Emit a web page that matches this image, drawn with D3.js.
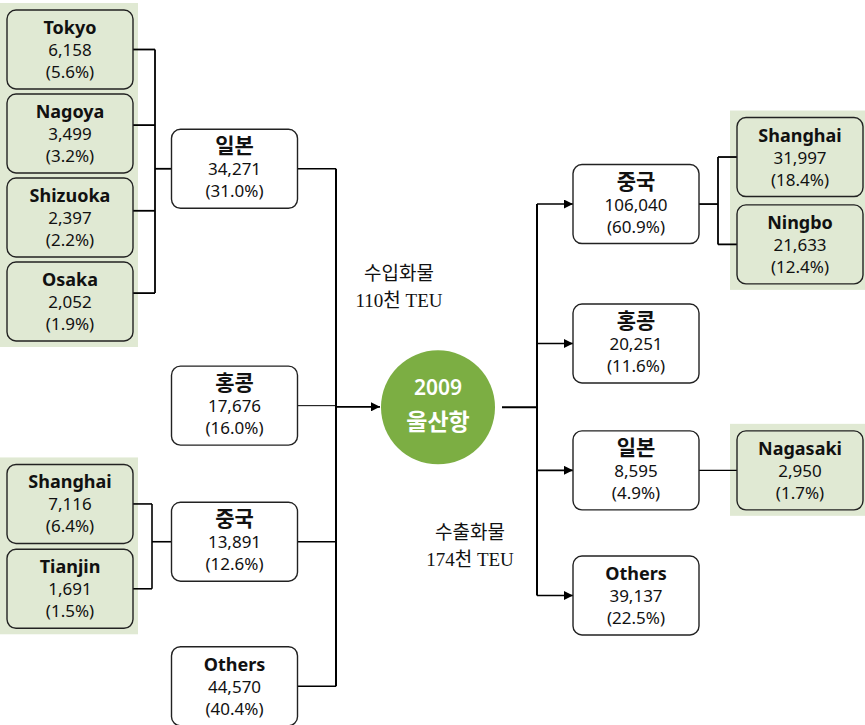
<!DOCTYPE html>
<html>
<head>
<meta charset="utf-8">
<script src="https://cdn.jsdelivr.net/npm/d3@7"></script>
<style>
  body { margin: 0; background: #fff; }
  svg { display: block; }
</style>
</head>
<body>
<svg id="chart" width="865" height="725"></svg>
<script>
// 수입 (import) - 국가별
const importCountries = ['일본', '홍콩', '중국', 'Others']
const importValues = [34271, 17676, 13891, 44570]
const importShares = [31.0, 16.0, 12.6, 40.4]

// 수입 - 일본 항만
const importJapanPorts = ['Tokyo', 'Nagoya', 'Shizuoka', 'Osaka']
const importJapanValues = [6158, 3499, 2397, 2052]
const importJapanShares = [5.6, 3.2, 2.2, 1.9]

// 수입 - 중국 항만
const importChinaPorts = ['Shanghai', 'Tianjin']
const importChinaValues = [7116, 1691]
const importChinaShares = [6.4, 1.5]

// 수출 (export) - 국가별
const exportCountries = ['중국', '홍콩', '일본', 'Others']
const exportValues = [106040, 20251, 8595, 39137]
const exportShares = [60.9, 11.6, 4.9, 22.5]

// 수출 - 중국 / 일본 항만
const exportChinaPorts = ['Shanghai', 'Ningbo']
const exportChinaValues = [31997, 21633]
const exportChinaShares = [18.4, 12.4]
const exportJapanPorts = ['Nagasaki']
const exportJapanValues = [2950]
const exportJapanShares = [1.7]

// 합계
const hubYear = '2009'
const hubName = '울산항'
const importTotal = 110
const exportTotal = 174

// 레이아웃 (행 위치)
const rowScale = d3.scaleLinear().domain([0, 1]).range([49.5, 133.5])
const importJapanRows = [0, 1, 2, 3]
const importJapanLinkRows = [0, 0.9, 1.92, 2.9]
const importChinaRows = [5.41, 6.42]
const importRows = [1.42, 4.24, 5.86, 7.58]
const exportRows = [1.84, 3.5, 5.01, 6.5]
const exportChinaRows = [1.28, 2.32]
const exportJapanRows = [5.01]
const hubRow = 4.26

const colX = { leftPort: 7, leftMid: 172, trunkL: 336, hub: 438, trunkR: 537, rightMid: 573, rightPort: 737 }
const boxW = 126, boxH = 79
const green = '#e0e9d3'
const hubGreen = '#7cae43'
const sansFont = '"Noto Sans", "Noto Sans CJK KR", sans-serif'
const krFont = '"Noto Sans CJK KR", sans-serif'
const serifFont = '"Liberation Serif", "DejaVu Serif", "Noto Sans CJK KR", serif'

const fmtValue = d3.format(',')
const fmtShare = d => '(' + d3.format('.1f')(d) + '%)'

const svg = d3.select('#chart')

svg.append('defs').append('marker')
    .attr('id', 'arrow')
    .attr('viewBox', '0 0 10 10')
    .attr('refX', 10)
    .attr('refY', 5)
    .attr('markerWidth', 10)
    .attr('markerHeight', 9)
    .attr('markerUnits', 'userSpaceOnUse')
    .attr('orient', 'auto')
    .append('path')
    .attr('d', 'M0,0 L10,5 L0,10 Z')
    .attr('fill', '#000')

const panelLayer = svg.append('g')
const lineLayer = svg.append('g').attr('fill', 'none').attr('stroke', '#000')
const boxLayer = svg.append('g')

// 녹색 배경 패널
function drawPanel(x, rows) {
    let top = rowScale(d3.min(rows)) - boxH / 2 - 7
    let bottom = rowScale(d3.max(rows)) + boxH / 2 + 6
    panelLayer.append('rect')
        .attr('x', x - 7)
        .attr('y', top)
        .attr('width', boxW + 12)
        .attr('height', bottom - top)
        .attr('fill', green)
}

// 박스 + 텍스트
function drawBoxes(x, rows, names, values, shares, fill) {
    let g = boxLayer.selectAll(null)
        .data(names.map((n, i) => ({ name: n, value: values[i], share: shares[i], cy: rowScale(rows[i]) })))
        .enter()
        .append('g')
        .attr('transform', d => 'translate(' + x + ',' + (d.cy - boxH / 2) + ')')

    g.append('rect')
        .attr('width', boxW)
        .attr('height', boxH)
        .attr('rx', 9)
        .attr('fill', fill)
        .attr('stroke', '#222')
        .attr('stroke-width', 1.4)

    g.append('text')
        .attr('x', boxW / 2)
        .attr('y', 24)
        .attr('text-anchor', 'middle')
        .attr('font-family', d => /[가-힣]/.test(d.name) ? krFont : sansFont)
        .attr('font-size', d => /[가-힣]/.test(d.name) ? 21 : 18)
        .attr('font-weight', 'bold')
        .attr('fill', '#111')
        .text(d => d.name)

    g.append('text')
        .attr('x', boxW / 2)
        .attr('y', 46)
        .attr('text-anchor', 'middle')
        .attr('font-family', sansFont)
        .attr('font-size', 17)
        .attr('fill', '#111')
        .text(d => fmtValue(d.value))

    g.append('text')
        .attr('x', boxW / 2)
        .attr('y', 68)
        .attr('text-anchor', 'middle')
        .attr('font-family', sansFont)
        .attr('font-size', 17)
        .attr('fill', '#111')
        .text(d => fmtShare(d.share))
}

// 가지 연결선 (자식 -> 부모)
function drawBracket(xFrom, xMid, xTo, childRows, parentRow, width) {
    let ys = childRows.map(r => rowScale(r))
    let py = rowScale(parentRow)
    ys.forEach(y => {
        lineLayer.append('path')
            .attr('d', d3.line()([[xFrom, y], [xMid, y]]))
            .attr('stroke-width', width)
    })
    lineLayer.append('path')
        .attr('d', d3.line()([[xMid, d3.min(ys.concat([py]))], [xMid, d3.max(ys.concat([py]))]]))
        .attr('stroke-width', width)
    lineLayer.append('path')
        .attr('d', d3.line()([[xMid, py], [xTo, py]]))
        .attr('stroke-width', width)
}

drawPanel(colX.leftPort, importJapanRows)
drawPanel(colX.leftPort, importChinaRows)
drawPanel(colX.rightPort, exportChinaRows)
drawPanel(colX.rightPort, exportJapanRows)

// 수입 쪽 연결선
drawBracket(colX.leftPort + boxW, 155, colX.leftMid, importJapanLinkRows, importRows[0], 1.8)
drawBracket(colX.leftPort + boxW, 152, colX.leftMid, importChinaRows, importRows[2], 1.6)

importRows.forEach((r, i) => {
    lineLayer.append('path')
        .attr('d', d3.line()([[colX.leftMid + boxW - 1, rowScale(r)], [colX.trunkL, rowScale(r)]]))
        .attr('stroke-width', i == 1 ? 1 : 1.6)
})
lineLayer.append('path')
    .attr('d', d3.line()([[colX.trunkL, rowScale(importRows[0])], [colX.trunkL, rowScale(d3.max(importRows))]]))
    .attr('stroke-width', 2)
lineLayer.append('path')
    .attr('d', d3.line()([[colX.trunkL, rowScale(hubRow) - 0.5], [colX.hub - 58, rowScale(hubRow) - 0.5]]))
    .attr('stroke-width', 1.8)
    .attr('marker-end', 'url(#arrow)')

// 수출 쪽 연결선
lineLayer.append('path')
    .attr('d', d3.line()([[colX.hub + 64, rowScale(hubRow)], [colX.trunkR, rowScale(hubRow)]]))
    .attr('stroke-width', 2)
lineLayer.append('path')
    .attr('d', d3.line()([[colX.trunkR, rowScale(d3.min(exportRows))], [colX.trunkR, rowScale(d3.max(exportRows))]]))
    .attr('stroke-width', 2)
exportRows.forEach(r => {
    lineLayer.append('path')
        .attr('d', d3.line()([[colX.trunkR, rowScale(r)], [colX.rightMid, rowScale(r)]]))
        .attr('stroke-width', 1.6)
        .attr('marker-end', 'url(#arrow)')
})

drawBracket(colX.rightPort, 718, colX.rightMid + boxW, exportChinaRows, exportRows[0], 1.8)
lineLayer.append('path')
    .attr('d', d3.line()([[colX.rightMid + boxW, rowScale(exportJapanRows[0])], [colX.rightPort, rowScale(exportJapanRows[0])]]))
    .attr('stroke-width', 1.4)

// 박스
drawBoxes(colX.leftPort, importJapanRows, importJapanPorts, importJapanValues, importJapanShares, green)
drawBoxes(colX.leftPort, importChinaRows, importChinaPorts, importChinaValues, importChinaShares, green)
drawBoxes(colX.leftMid - 0.5, importRows, importCountries, importValues, importShares, '#fff')
drawBoxes(colX.rightMid, exportRows, exportCountries, exportValues, exportShares, '#fff')
drawBoxes(colX.rightPort, exportChinaRows, exportChinaPorts, exportChinaValues, exportChinaShares, green)
drawBoxes(colX.rightPort, exportJapanRows, exportJapanPorts, exportJapanValues, exportJapanShares, green)

// 중앙 원
let hubY = rowScale(hubRow)
svg.append('circle')
    .attr('cx', colX.hub)
    .attr('cy', hubY)
    .attr('r', 57)
    .attr('fill', hubGreen)
svg.append('text')
    .attr('x', colX.hub)
    .attr('y', hubY - 12)
    .attr('text-anchor', 'middle')
    .attr('font-family', sansFont)
    .attr('font-size', 21)
    .attr('font-weight', 600)
    .attr('fill', '#fff')
    .text(hubYear)
svg.append('text')
    .attr('x', colX.hub)
    .attr('y', hubY + 23)
    .attr('text-anchor', 'middle')
    .attr('font-family', krFont)
    .attr('font-size', 23)
    .attr('font-weight', 'bold')
    .attr('fill', '#fff')
    .text(hubName)

// 수입/수출 합계 라벨
function drawTotal(x, y, label, total) {
    let t = svg.append('text')
        .attr('text-anchor', 'middle')
        .attr('font-family', serifFont)
        .attr('font-size', 19)
        .attr('fill', '#111')
    t.append('tspan').attr('x', x).attr('y', y).text(label)
    t.append('tspan').attr('x', x).attr('y', y + 27).text(total + '천 TEU')
}
drawTotal(399, 280, '수입화물', importTotal)
drawTotal(470, 539, '수출화물', exportTotal)
</script>
</body>
</html>
